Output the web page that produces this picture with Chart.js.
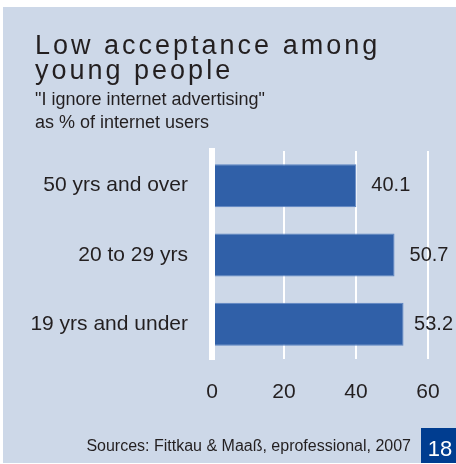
<!DOCTYPE html>
<html>
<head>
<meta charset="utf-8">
<script src="https://cdn.jsdelivr.net/npm/chart.js@4"></script>
<style>
  html, body { margin: 0; padding: 0; background: #fff; }
  #wrap { width: 456px; height: 464px; position: relative; }
</style>
</head>
<body>
<div id="wrap"><canvas id="chart" width="456" height="464"></canvas></div>
<script>
  const ageGroups = ["50 yrs and over", "20 to 29 yrs", "19 yrs and under"];
  const ignoreShare = [40.1, 50.7, 53.2];
  const axisTicks = [0, 20, 40, 60];

  const titleLines = ["Low acceptance among", "young people"];
  const subtitleLines = ['"I ignore internet advertising"', "as % of internet users"];
  const sourceNote = "Sources: Fittkau & Maaß, eprofessional, 2007";
  const pageNumber = "18";

  const panelColor = "#cdd8e8";
  const barColor = "#3060a8";
  const textColor = "#231f20";
  const fontFamily = "'Liberation Sans', Arial, Helvetica, sans-serif";

  // 背景パネル・見出し・出典・ページ番号
  const decorations = {
    id: "decorations",
    beforeDraw(chart) {
      const { ctx } = chart;
      ctx.save();
      ctx.fillStyle = panelColor;
      ctx.fillRect(3, 7, 453, 456);
      ctx.restore();
    },
    afterDraw(chart) {
      const { ctx } = chart;
      ctx.save();
      ctx.fillStyle = textColor;
      ctx.textAlign = "left";
      ctx.textBaseline = "alphabetic";

      ctx.font = `27px ${fontFamily}`;
      ctx.letterSpacing = "3px";
      ctx.fillText(titleLines[0], 35, 54);
      ctx.fillText(titleLines[1], 35, 79);

      ctx.letterSpacing = "0px";
      ctx.font = `18px ${fontFamily}`;
      ctx.fillText(subtitleLines[0], 35, 105);
      ctx.fillText(subtitleLines[1], 35, 128);

      ctx.font = `16px ${fontFamily}`;
      ctx.textAlign = "right";
      ctx.textBaseline = "middle";
      ctx.fillText(sourceNote, 411, 447);

      ctx.fillStyle = "#003d90";
      ctx.fillRect(421, 428, 35, 35);
      ctx.fillStyle = "#ffffff";
      ctx.font = `22px ${fontFamily}`;
      ctx.textAlign = "center";
      ctx.fillText(pageNumber, 440, 450);
      ctx.restore();
    },
  };

  // 棒の右側に値を表示（右端からはみ出す場合は内側に寄せる）
  const valueLabels = {
    id: "valueLabels",
    afterDatasetsDraw(chart) {
      const { ctx } = chart;
      const meta = chart.getDatasetMeta(0);
      ctx.save();
      ctx.fillStyle = textColor;
      ctx.font = `20px ${fontFamily}`;
      ctx.textAlign = "left";
      ctx.textBaseline = "middle";
      meta.data.forEach((bar, i) => {
        const text = ignoreShare[i].toFixed(1);
        const w = ctx.measureText(text).width;
        const x = Math.min(bar.x + 15, chart.width - 3 - w);
        ctx.fillText(text, x, bar.y);
      });
      ctx.restore();
    },
  };

  new Chart(document.getElementById("chart"), {
    type: "bar",
    data: {
      labels: ageGroups,
      datasets: [
        {
          data: ignoreShare,
          backgroundColor: barColor,
          borderColor: "#5b83c2",
          borderWidth: 1,
          borderSkipped: "start",
          categoryPercentage: 1,
          barPercentage: 0.62,
        },
      ],
    },
    options: {
      indexAxis: "y",
      responsive: false,
      animation: false,
      layout: {
        padding: { top: 151, left: 30, right: 28, bottom: 59 },
      },
      scales: {
        x: {
          min: axisTicks[0],
          max: axisTicks[axisTicks.length - 1],
          afterBuildTicks: (scale) => {
            scale.ticks = axisTicks.map((v) => ({ value: v }));
          },
          // 余白はlayout.paddingで決めるので目盛ラベル分の余白は使わない
          afterFit: (scale) => {
            scale.height = 46;
            scale.paddingLeft = 0;
            scale.paddingRight = 0;
          },
          grid: { color: "#ffffff", lineWidth: 2, drawTicks: false },
          border: { display: false },
          ticks: {
            color: textColor,
            padding: 21,
            font: { family: fontFamily, size: 21 },
          },
        },
        y: {
          afterFit: (scale) => {
            scale.width = 182;
            scale.paddingTop = 0;
            scale.paddingBottom = 0;
          },
          grid: { display: false, drawTicks: false },
          border: { display: true, color: "#ffffff", width: 6, z: 1 },
          ticks: {
            color: textColor,
            padding: 24,
            font: { family: fontFamily, size: 21 },
          },
        },
      },
      plugins: {
        legend: { display: false },
        tooltip: { enabled: false },
      },
    },
    plugins: [decorations, valueLabels],
  });
</script>
</body>
</html>
